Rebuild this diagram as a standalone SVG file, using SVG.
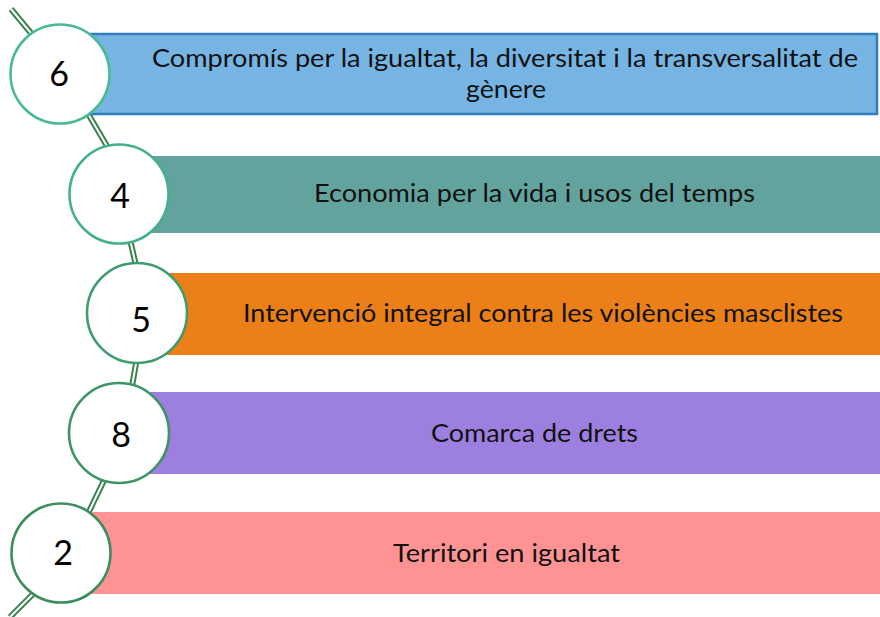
<svg xmlns="http://www.w3.org/2000/svg" width="880" height="617" viewBox="0 0 880 617">
<style>
.lbl{font-family:Lato,"Liberation Sans",sans-serif;font-size:25px;fill:#111;text-anchor:middle}
.num{font-family:Lato,"Liberation Sans",sans-serif;font-size:34px;fill:#000;text-anchor:middle}
.c{fill:#fff;stroke-width:2.6}
</style>
<rect width="880" height="617" fill="#fff"/>
<g id="connectors" fill="none" stroke-linecap="butt">
<path id="conn-outer" d="M11 9 L45 50 M80 100 L114 158 M129 235 L137 270 M137.5 355 L131 392 M108 472 L85 520 M39 588 L10 617" stroke="#3b8150" stroke-width="6"/>
<path d="M11 9 L45 50 M80 100 L114 158 M129 235 L137 270 M137.5 355 L131 392 M108 472 L85 520 M39 588 L10 617" stroke="#fff" stroke-width="2"/>
</g>
<g id="node-6">
<rect x="60" y="34" width="817" height="80" fill="#75b4e3" stroke="#2f7dc0" stroke-width="2.5"/>
<circle class="c" cx="60" cy="74" r="49.5" stroke="#4aba93"/>
<text class="num" x="59" y="86">6</text>
<text class="lbl" x="505" y="67" textLength="706" lengthAdjust="spacingAndGlyphs">Compromís per la igualtat, la diversitat i la transversalitat de</text>
<text class="lbl" x="506" y="98" textLength="80" lengthAdjust="spacingAndGlyphs">gènere</text>
</g>
<g id="node-4">
<rect x="119" y="156" width="761" height="77" fill="#63a39e"/>
<circle class="c" cx="119" cy="194" r="49.5" stroke="#45b18b"/>
<text class="num" x="120" y="208">4</text>
<text class="lbl" x="534.5" y="202" textLength="441" lengthAdjust="spacingAndGlyphs">Economia per la vida i usos del temps</text>
</g>
<g id="node-5">
<rect x="137" y="273" width="743" height="82" fill="#ea8017"/>
<circle class="c" cx="137" cy="313" r="50" stroke="#3f9c6f"/>
<text class="num" x="141" y="332">5</text>
<text class="lbl" x="543" y="322" textLength="600" lengthAdjust="spacingAndGlyphs">Intervenció integral contra les violències masclistes</text>
</g>
<g id="node-8">
<rect x="119" y="392" width="761" height="82" fill="#9d7fe0"/>
<circle class="c" cx="119" cy="433" r="50" stroke="#3d9567"/>
<text class="num" x="121" y="447">8</text>
<text class="lbl" x="534.5" y="442" textLength="207" lengthAdjust="spacingAndGlyphs">Comarca de drets</text>
</g>
<g id="node-2">
<rect x="61" y="512" width="819" height="82" fill="#ff9393"/>
<circle class="c" cx="61" cy="553" r="49.5" stroke="#3b8d5c"/>
<text class="num" x="63" y="565">2</text>
<text class="lbl" x="506.5" y="562" textLength="227" lengthAdjust="spacingAndGlyphs">Territori en igualtat</text>
</g>
</svg>
